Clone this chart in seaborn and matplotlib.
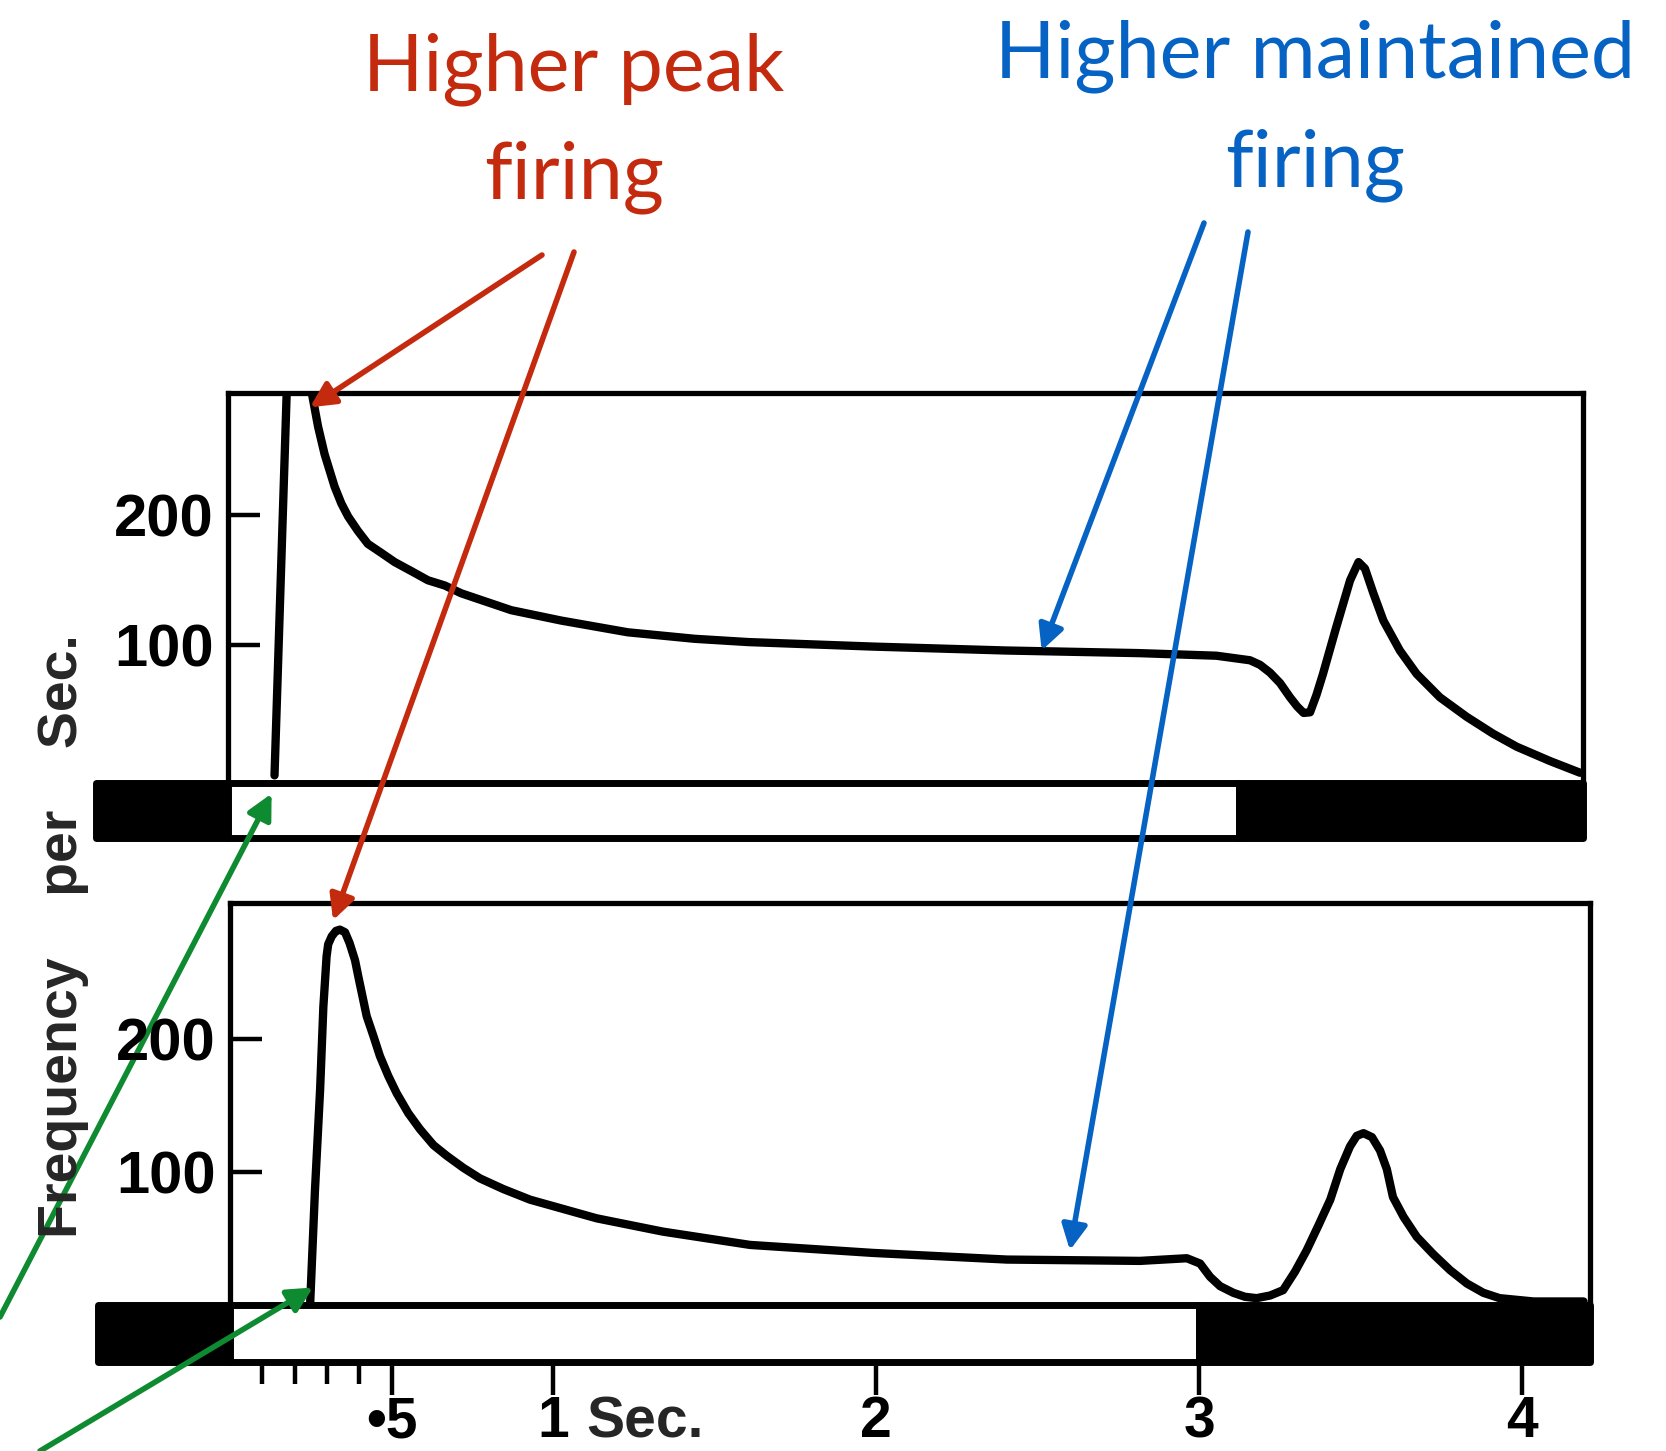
import matplotlib
matplotlib.use("Agg")
import matplotlib.pyplot as plt
import seaborn as sns
import pandas as pd
from matplotlib.patches import ArrowStyle

# ---- firing-rate traces: time (s) and impulse frequency (per s) ----
upper_time = [0.144, 0.185, 0.22, 0.255, 0.279, 0.299, 0.33, 0.351, 0.372, 0.402,
              0.433, 0.475, 0.516, 0.568, 0.619, 0.671, 0.722, 0.877, 1.032, 1.238,
              1.445, 1.61, 2.0, 2.41, 2.82, 3.06, 3.164, 3.195, 3.226, 3.257,
              3.288, 3.31, 3.33, 3.35, 3.37, 3.39, 3.43, 3.474, 3.50, 3.52,
              3.546, 3.577, 3.628, 3.68, 3.752, 3.835, 3.917, 3.99, 4.093, 4.186]
upper_rate = [0, 320, 345, 300, 268, 247, 222, 209, 199, 188,
              178, 171, 164, 157, 150, 146, 140, 127, 119, 110,
              105, 102.5, 99, 96, 94, 92, 88.5, 85, 79, 71,
              60, 53, 48, 48.5, 62, 78, 113, 150, 164, 159,
              140, 119, 96, 78, 60, 45, 32, 22, 11, 2]

lower_time = [0.248, 0.263, 0.279, 0.289, 0.299, 0.304, 0.315, 0.328, 0.34, 0.356,
              0.37, 0.387, 0.397, 0.423, 0.444, 0.464, 0.49, 0.516, 0.552, 0.588,
              0.63, 0.671, 0.722, 0.774, 0.846, 0.929, 1.135, 1.34, 1.61, 1.99,
              2.405, 2.817, 2.962, 3.003, 3.034, 3.065, 3.106, 3.142, 3.178, 3.22,
              3.26, 3.297, 3.333, 3.37, 3.406, 3.437, 3.467, 3.488, 3.509, 3.535,
              3.56, 3.581, 3.60, 3.633, 3.674, 3.725, 3.777, 3.829, 3.88, 3.93,
              4.035, 4.19]
lower_rate = [0, 86, 162, 224, 262, 271, 277, 281, 282, 280,
              272, 259, 247, 217, 202, 187, 172, 159, 144, 132,
              120, 112, 103, 95, 87, 79, 65, 55, 45, 39,
              34, 33, 35, 31, 21, 14, 9, 6, 5, 7,
              11, 25, 41, 60, 79, 102, 119, 127, 129, 126,
              116, 102, 81, 66, 51, 38, 26, 16, 9, 5,
              2.5, 2.5]

# ---- stimulus bars (dark before onset and after offset) ----
stim_start = -0.41
upper_stim_off = 3.13
lower_stim_off = 3.00

# ---- axis ticks ----
y_ticks = [100, 200]
y_tick_labels = ["100", "200"]
x_major = [0.5, 1, 2, 3, 4]
x_major_labels = ["\u20225", "1", "2", "3", "4"]
x_minor = [0.1, 0.2, 0.3, 0.4]

RED = "#C42A0E"
BLUE = "#0663C3"
GREEN = "#0E8A30"

sns.set_theme(style="white")
plt.rcParams["font.family"] = ["Liberation Sans", "DejaVu Sans"]

W, H = 1666, 1451
fig = plt.figure(figsize=(W / 100, H / 100), dpi=100)
fig.patch.set_facecolor("white")


def fig_box(left, top, right, bottom):
    return [left / W, 1 - bottom / H, (right - left) / W, (bottom - top) / H]


def px(x, y):
    """figure pixels measured from the top-left corner"""
    return (x, H - y)


ax_top = fig.add_axes(fig_box(228, 393, 1583, 843))
ax_bot = fig.add_axes(fig_box(230, 903, 1590, 1366))

panels = [
    (ax_top, upper_time, upper_rate, upper_stim_off, 4.195, (-52, 294), (-48, 42)),
    (ax_bot, lower_time, lower_rate, lower_stim_off, 4.21, (-46, 302), (-43, 43)),
]

tick_font = dict(family="Liberation Sans", weight="bold")

for ax, t, r, stim_off, xmax, ylim, bar in panels:
    ax.set_facecolor("white")
    df = pd.DataFrame({"time": t, "rate": r})
    sns.lineplot(data=df, x="time", y="rate", ax=ax, color="black", linewidth=6,
                 sort=False, estimator=None, solid_capstyle="round",
                 solid_joinstyle="round", zorder=2)
    ax.broken_barh([(stim_start, -stim_start), (0, stim_off), (stim_off, xmax - stim_off)],
                   bar, facecolors=["black", "white", "black"], edgecolor="black",
                   linewidth=5, clip_on=False, zorder=3)
    ax.set_xlim(0, xmax)
    ax.set_ylim(*ylim)
    bar_top = bar[0] + bar[1]
    for side in ("left", "right", "top"):
        ax.spines[side].set_visible(True)
        ax.spines[side].set_color("black")
        ax.spines[side].set_linewidth(3.8)
    ax.spines["left"].set_bounds(bar_top, ylim[1])
    ax.spines["right"].set_bounds(bar_top, ylim[1])
    ax.spines["bottom"].set_visible(False)
    ax.set_yticks(y_ticks)
    ax.set_yticklabels(y_tick_labels, fontsize=43, **tick_font)
    ax.tick_params(axis="y", direction="in", length=23, width=3.2, pad=10,
                   left=True, colors="black")
    ax.set_xlabel("")
    ax.set_ylabel("")
    ax.grid(False)

ax_top.tick_params(axis="x", bottom=False, labelbottom=False)
ax_top.set_xticks([])

ax_bot.set_xticks(x_major)
ax_bot.set_xticklabels(x_major_labels, fontsize=41, **tick_font)
ax_bot.set_xticks(x_minor, minor=True)
ax_bot.tick_params(axis="x", which="major", direction="out", length=21, width=3.2,
                   pad=0, bottom=True, colors="black")
ax_bot.tick_params(axis="x", which="minor", direction="out", length=13, width=3.2,
                   bottom=True, colors="black")
ax_bot.annotate("Sec.", xy=(1, 0), xycoords=ax_bot.get_xaxis_transform(),
                xytext=(24, -21), textcoords="offset points", ha="left", va="top",
                fontsize=41, **tick_font)

# shared y label
fig.text(63 / W, 1 - 936 / H, "Frequency    per    Sec.", rotation=90,
         ha="center", va="center", fontsize=40, **tick_font)

# ---- callout text ----
call_font = dict(family="Lato", fontsize=57)
fig.text(574 / W, 1 - 90 / H, "Higher peak", ha="center", va="baseline", color=RED, **call_font)
fig.text(574 / W, 1 - 198 / H, "firing", ha="center", va="baseline", color=RED, **call_font)
fig.text(1315 / W, 1 - 77 / H, "Higher maintained", ha="center", va="baseline", color=BLUE, **call_font)
fig.text(1315 / W, 1 - 186 / H, "firing", ha="center", va="baseline", color=BLUE, **call_font)

head = ArrowStyle("-|>", head_length=0.75, head_width=0.38)


def arrow(ax, tip, start, color):
    ann = ax.annotate("", xy=tip, xycoords="data", xytext=px(*start),
                      textcoords="figure pixels", annotation_clip=False,
                      arrowprops=dict(arrowstyle=head, color=color, lw=4,
                                      mutation_scale=20, shrinkA=0, shrinkB=0))
    ann.set_clip_on(False)
    ann.arrow_patch.set_clip_on(False)
    ann.set_zorder(10)


arrow(ax_top, (0.254, 283), (542, 255), RED)
arrow(ax_bot, (0.319, 289), (574, 252), RED)
arrow(ax_top, (2.519, 96), (1204, 223), BLUE)
arrow(ax_bot, (2.60, 41), (1248, 232), BLUE)
arrow(ax_top, (0.135, -14), (0, 1317), GREEN)
arrow(ax_bot, (0.257, 13), (40, 1451), GREEN)

fig.savefig("out.png", dpi=100, facecolor="white")
